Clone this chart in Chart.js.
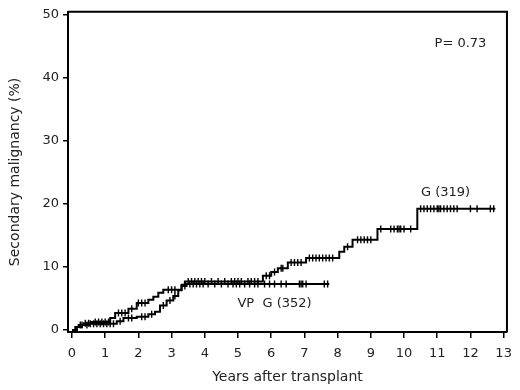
<!DOCTYPE html>
<html><head><meta charset="utf-8">
<script src="https://cdn.jsdelivr.net/npm/chart.js@4/dist/chart.umd.min.js"></script>
<style>html,body{margin:0;padding:0;background:#fff}</style>
</head><body>
<canvas id="c" width="520" height="390"></canvas>
<script>
// ---- data ----
const xTicks = [0,1,2,3,4,5,6,7,8,9,10,11,12,13];
const yTicks = [0,10,20,30,40,50];

// G (319): event times (years) and cumulative incidence (%) after each event
const timesG = [0, 0.1, 0.2, 0.35, 0.6, 1.15, 1.3, 1.7, 1.95, 2.3, 2.45, 2.6, 2.75, 3.3, 3.4, 5.75, 6.0, 6.2, 6.5, 7.05, 8.05, 8.2, 8.45, 9.2, 10.4];
const incG   = [0, 0.5, 0.8, 1.1, 1.3, 1.9, 2.7, 3.4, 4.3, 4.8, 5.3, 5.9, 6.4, 7.2, 7.7, 8.6, 9.2, 9.8, 10.7, 11.4, 12.4, 13.2, 14.3, 16.0, 19.2];
const endG = 12.75;
const censorG = [0.25,0.4,0.5,0.7,0.8,0.9,1.0,1.1,1.4,1.5,1.6,1.8,2.0,2.1,2.2,2.9,3.0,3.1,3.5,3.6,3.7,3.8,3.9,4.0,4.2,4.4,4.6,4.8,4.9,5.0,5.1,5.3,5.4,5.5,5.6,5.85,5.95,6.1,6.3,6.35,6.6,6.7,6.8,6.9,7.15,7.25,7.35,7.45,7.55,7.65,7.75,7.85,8.3,8.6,8.7,8.8,8.9,9.0,9.3,9.6,9.7,9.8,9.85,9.9,10.0,10.2,10.5,10.6,10.7,10.8,10.9,11.0,11.05,11.1,11.2,11.3,11.4,11.5,11.6,12.0,12.2,12.6,12.7];

// VP G (352)
const timesVPG = [0, 0.15, 0.3, 0.5, 1.35, 1.55, 1.95, 2.3, 2.5, 2.65, 2.85, 3.05, 3.2, 3.3, 3.45];
const incVPG   = [0, 0.5, 0.8, 1.0, 1.4, 1.9, 2.1, 2.5, 2.9, 3.9, 4.7, 5.4, 6.3, 7.0, 7.3];
const endVPG = 7.75;
const censorVPG = [0.3,0.45,0.55,0.65,0.75,0.85,0.95,1.05,1.15,1.25,1.45,1.7,1.8,2.1,2.2,2.4,2.75,2.95,3.1,3.4,3.55,3.65,3.75,3.85,3.95,4.1,4.3,4.5,4.7,4.85,4.95,5.05,5.2,5.35,5.5,5.6,5.8,5.95,6.1,6.3,6.45,6.85,6.9,6.95,7.05,7.6,7.7];

const notes = ['P= 0.73', 'G (319)', 'VP  G (352)'];
const notePosX = [11.7, 11.25, 6.1];
const notePosY = [45.3, 21.7, 4.2];

// ---- helpers ----
function stepPoints(times, inc, end){
  const pts = times.map((t,i)=>({x:t, y:inc[i]}));
  pts.push({x:end, y:inc[inc.length-1]});
  return pts;
}
function levelAt(times, inc, t){
  let v = 0;
  for (let i=0;i<times.length;i++){ if (times[i] <= t) v = inc[i]; }
  return v;
}
function censorPoints(times, inc, cens){
  return cens.map(t=>({x:t, y:levelAt(times, inc, t)}));
}

const FONT = "'DejaVu Sans', Verdana, sans-serif";
const TXT = '#222';

const frame = {
  id:'frame',
  afterDraw(chart){
    const {ctx, chartArea:a} = chart;
    ctx.save();
    ctx.strokeStyle = '#000'; ctx.lineWidth = 2;
    ctx.beginPath();
    ctx.moveTo(a.left, a.top); ctx.lineTo(a.right, a.top); ctx.lineTo(a.right, a.bottom);
    ctx.stroke();
    ctx.fillStyle = TXT; ctx.font = '13px ' + FONT;
    ctx.textAlign = 'center'; ctx.textBaseline = 'middle';
    const xs = chart.scales.x, ys = chart.scales.y;
    notes.forEach((n,i)=>ctx.fillText(n, xs.getPixelForValue(notePosX[i]), ys.getPixelForValue(notePosY[i])));
    ctx.restore();
  }
};

new Chart(document.getElementById('c'), {
  type:'line',
  data:{ datasets:[
    {data: stepPoints(timesG, incG, endG), stepped:'before', borderColor:'#000', borderWidth:2, pointRadius:0, fill:false},
    {data: stepPoints(timesVPG, incVPG, endVPG), stepped:'before', borderColor:'#000', borderWidth:2, pointRadius:0, fill:false},
    {data: censorPoints(timesG, incG, censorG), showLine:false, pointStyle:'line', rotation:90, pointRadius:3.5, borderColor:'#000', pointBorderWidth:1.4, pointBackgroundColor:'#000'},
    {data: censorPoints(timesVPG, incVPG, censorVPG), showLine:false, pointStyle:'line', rotation:90, pointRadius:3.5, borderColor:'#000', pointBorderWidth:1.4, pointBackgroundColor:'#000'}
  ]},
  options:{
    responsive:false, animation:false, devicePixelRatio:1,
    layout:{padding:{top:9, right:12, left:0, bottom:0}},
    plugins:{legend:{display:false}, tooltip:{enabled:false}},
    scales:{
      x:{type:'linear', min:-0.12, max:13.1,
        afterBuildTicks:s=>{ s.ticks = xTicks.map(v=>({value:v})); },
        afterFit:s=>{ s.height = 58; },
        grid:{display:true, drawOnChartArea:false, drawTicks:true, tickLength:6, color:'#000', lineWidth:1.5},
        border:{display:true, color:'#000', width:2},
        ticks:{color:TXT, font:{family:FONT, size:13}, padding:8, maxRotation:0, autoSkip:false},
        title:{display:true, text:'Years after transplant', color:TXT, font:{family:FONT, size:14}, padding:{top:0, bottom:4}}
      },
      y:{type:'linear', min:-0.3, max:50.4,
        afterBuildTicks:s=>{ s.ticks = yTicks.map(v=>({value:v})); },
        afterFit:s=>{ s.width = 68; },
        grid:{display:true, drawOnChartArea:false, drawTicks:true, tickLength:5, color:'#000', lineWidth:1.5},
        border:{display:true, color:'#000', width:2},
        ticks:{color:TXT, font:{family:FONT, size:13}, padding:4},
        title:{display:true, text:'Secondary malignancy (%)', color:TXT, font:{family:FONT, size:14}, padding:{top:7, bottom:0}}
      }
    }
  },
  plugins:[frame]
});
</script>
</body></html>
